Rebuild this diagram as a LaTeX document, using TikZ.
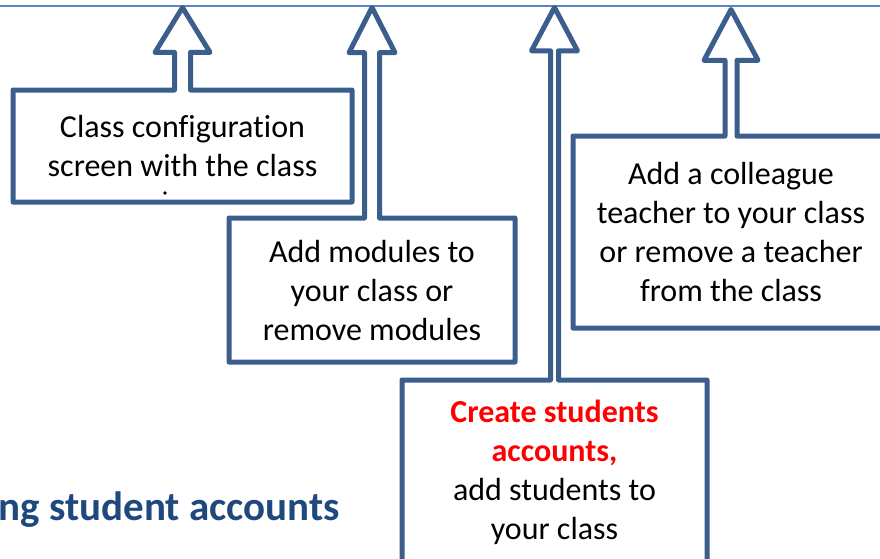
\documentclass[tikz,border=0pt]{standalone}
\usepackage{fontspec}
\setmainfont[Ligatures = NoCommon]{Carlito}
\usetikzlibrary{shapes.arrows}

\definecolor{calloutblue}{HTML}{3B5E8C}
\definecolor{ruleblue}{HTML}{5B86C4}
\definecolor{titleblue}{HTML}{1F497D}

\tikzset{
    callout/.style = {arrow box, draw = calloutblue, line width = 5pt, fill = white,
        line join = round, inner sep = 0pt, align = center,
        font = \fontsize{32}{39}\selectfont,
        arrow box south arrow = -1pt, arrow box east arrow = -1pt,
        arrow box west arrow = -1pt},
}

\begin{document}
\begin{tikzpicture}[x = 1pt, y = -1pt]
        \useasboundingbox (0, 0) rectangle (880, 558);
        \draw[ruleblue, line width = 1.5pt] (0, 6) -- (880, 6);

        % callout boxes, each pointing up to the rule
        \node[callout, minimum width = 339pt, minimum height = 112pt,
            arrow box north arrow = 80pt, arrow box shaft width = 16pt,
            arrow box head extend = 19.5pt, arrow box tip angle = 63]
            (config) at (182.5, 146) {Class configuration\\screen with the class};
        % \node at (165, 196) {.};
        \fill (165, 193) circle [radius = 1.8];
        \node[callout, minimum width = 286pt, minimum height = 144pt,
            arrow box north arrow = 208pt, arrow box shaft width = 15pt,
            arrow box head extend = 15.5pt, arrow box tip angle = 54]
            (modules) at (372, 290) {Add modules to\\your class or\\remove modules};
        \node[callout, minimum width = 305pt, minimum height = 184pt,
            arrow box north arrow = 370pt, arrow box shaft width = 8pt,
            arrow box head extend = 19pt, arrow box tip angle = 56]
            (students) at (554.5, 472) {\textcolor{red}{\bfseries Create students}\\
            \textcolor{red}{\bfseries accounts,}\\add students to\\your class};
        \node[callout, minimum width = 316pt, minimum height = 192pt,
            arrow box north arrow = 124pt, arrow box shaft width = 12pt,
            arrow box head extend = 21pt, arrow box tip angle = 56]
            (teacher) at (731, 232) {Add a colleague\\teacher to your class\\or remove a teacher\\from the class};

        \node[font = \bfseries\fontsize{41}{48}\selectfont, text = titleblue,
            anchor = base east, inner sep = 0pt] (heading) at (340, 520) {ng student accounts};
    \end{tikzpicture}
\end{document}
